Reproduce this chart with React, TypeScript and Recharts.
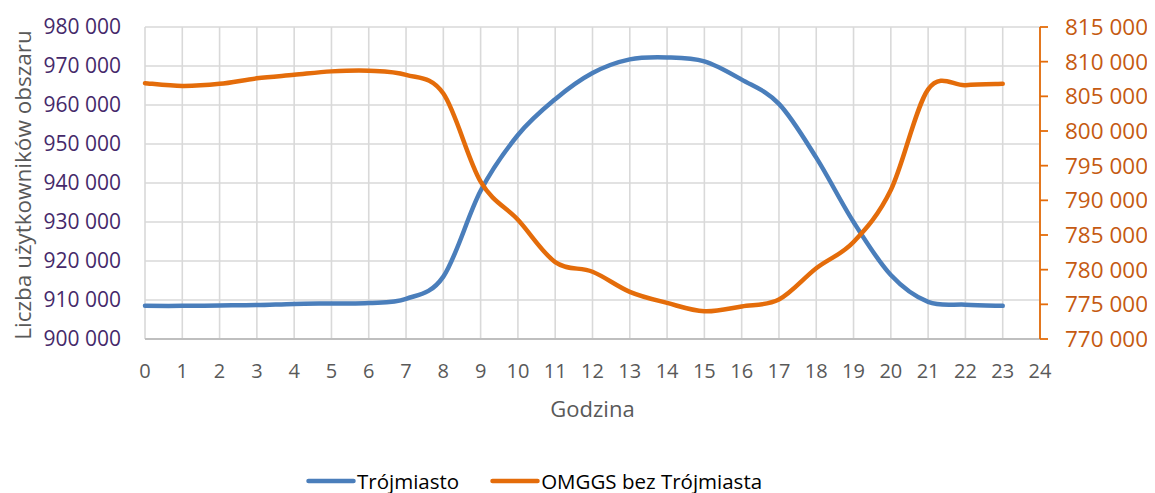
import React from 'react';
import { LineChart, Line, XAxis, YAxis, CartesianGrid, Legend, Label } from 'recharts';

const hours = [0, 1, 2, 3, 4, 5, 6, 7, 8, 9, 10, 11, 12, 13, 14, 15, 16, 17, 18, 19, 20, 21, 22, 23];
const trojmiasto = [
  908500, 908500, 908600, 908700, 909000, 909100, 909200, 910300, 916000, 938000, 952300, 961500,
  968200, 971700, 972200, 971200, 966500, 960300, 946500, 930000, 916400, 909500, 908800, 908500,
];
const omggs = [
  806900, 806500, 806800, 807600, 808100, 808600, 808700, 808100, 805400, 792700, 787200, 781100,
  779700, 776800, 775200, 774000, 774700, 775700, 780200, 784000, 791500, 806000, 806600, 806800,
];
const xTicks = [0, 1, 2, 3, 4, 5, 6, 7, 8, 9, 10, 11, 12, 13, 14, 15, 16, 17, 18, 19, 20, 21, 22, 23, 24];
const leftTicks = [900000, 910000, 920000, 930000, 940000, 950000, 960000, 970000, 980000];
const rightTicks = [770000, 775000, 780000, 785000, 790000, 795000, 800000, 805000, 810000, 815000];
const seriesNames = ['Trójmiasto', 'OMGGS bez Trójmiasta'];
const xTitle = 'Godzina';
const yTitle = 'Liczba użytkowników obszaru';

const data = hours.map((h, i) => ({ hour: h, a: trojmiasto[i], b: omggs[i] }));

const FONT = '"Open Sans", sans-serif';
const BLUE = '#4a7ebb';
const ORANGE = '#e46c0a';
const ORANGE_TXT = '#c55a11';
const PURPLE = '#45296a';
const GRAY = '#595959';

const fmt = (v: number) => String(v).replace(/\B(?=(\d{3})+(?!\d))/g, ' ');

// Excel-like smoothed line (Catmull-Rom through points)
const excelCurve = (context: any) => {
  let pts: number[][] = [];
  return {
    areaStart() {},
    areaEnd() {},
    lineStart() {
      pts = [];
    },
    point(x: number, y: number) {
      pts.push([+x, +y]);
    },
    lineEnd() {
      const n = pts.length;
      if (!n) return;
      context.moveTo(pts[0][0], pts[0][1]);
      for (let i = 0; i < n - 1; i++) {
        const p0 = pts[i - 1] || pts[i];
        const p1 = pts[i];
        const p2 = pts[i + 1];
        const p3 = pts[i + 2] || p2;
        context.bezierCurveTo(
          p1[0] + (p2[0] - p0[0]) / 6,
          p1[1] + (p2[1] - p0[1]) / 6,
          p2[0] - (p3[0] - p1[0]) / 6,
          p2[1] - (p3[1] - p1[1]) / 6,
          p2[0],
          p2[1]
        );
      }
    },
  };
};

const renderLegend = (props: any) => {
  const payload = [...(props.payload || [])].sort(
    (p: any, q: any) => seriesNames.indexOf(p.value) - seriesNames.indexOf(q.value)
  );
  return (
    <div
      style={{
        display: 'flex',
        alignItems: 'center',
        height: 20,
        fontFamily: FONT,
        fontSize: 20.5,
        lineHeight: '20px',
        color: '#000',
        whiteSpace: 'nowrap',
      }}
    >
      {payload.map((e: any, i: number) => (
        <div key={i} style={{ display: 'flex', alignItems: 'center', marginLeft: i ? 31 : 0 }}>
          <svg width={50} height={10} style={{ display: 'block' }}>
            <line x1={2.5} y1={5} x2={47.5} y2={5} stroke={e.color} strokeWidth={4.5} strokeLinecap="round" />
          </svg>
          <span style={{ marginLeft: 1, lineHeight: '20px' }}>{e.value}</span>
        </div>
      ))}
    </div>
  );
};

const renderYTitle = (props: any) => {
  const vb = props.viewBox || {};
  const cx = 14;
  const cy = (vb.y || 0) + (vb.height || 0) / 2 + 2;
  return (
    <text
      x={cx}
      y={cy}
      transform={`rotate(-90 ${cx} ${cy})`}
      textAnchor="middle"
      dominantBaseline="central"
      fill={GRAY}
      fontFamily={FONT}
      fontSize={22.5}
    >
      {yTitle}
    </text>
  );
};

export default function App() {
  return (
    <LineChart width={1147} height={485} data={data} margin={{ top: 19, right: 0, bottom: 0, left: 0 }}>
      <CartesianGrid yAxisId="left" stroke="#d9d9d9" strokeWidth={1.6} />
      <XAxis
        dataKey="hour"
        type="number"
        domain={[0, 24]}
        ticks={xTicks}
        interval={0}
        height={154}
        axisLine={{ stroke: '#bfbfbf', strokeWidth: 2 }}
        tickLine={false}
        tickSize={0}
        tickMargin={25}
        tick={{ fill: GRAY, fontSize: 20, fontFamily: FONT }}
      >
        <Label value={xTitle} position="insideTop" offset={62} fill={GRAY} fontSize={22} fontFamily={FONT} />
      </XAxis>
      <YAxis
        yAxisId="left"
        orientation="left"
        width={137}
        domain={[900000, 980000]}
        ticks={leftTicks}
        interval={0}
        tickFormatter={fmt}
        axisLine={false}
        tickLine={false}
        tickSize={0}
        tickMargin={24}
        tick={{ fill: PURPLE, fontSize: 21, fontFamily: FONT }}
      >
        <Label content={renderYTitle} />
      </YAxis>
      <YAxis
        yAxisId="right"
        orientation="right"
        width={115}
        domain={[770000, 815000]}
        ticks={rightTicks}
        interval={0}
        tickFormatter={fmt}
        axisLine={{ stroke: ORANGE, strokeWidth: 1.8 }}
        tickLine={{ stroke: ORANGE, strokeWidth: 1.8 }}
        tickSize={8}
        tickMargin={17}
        tick={{ fill: ORANGE_TXT, fontSize: 22.5, fontFamily: FONT }}
      />
      <Legend
        verticalAlign="middle"
        align="center"
        layout="horizontal"
        content={renderLegend}
        wrapperStyle={{ top: 463, left: 298, width: 700, height: 20 }}
      />
      <Line
        yAxisId="left"
        dataKey="a"
        name={seriesNames[0]}
        type={excelCurve as any}
        stroke={BLUE}
        strokeWidth={4.5}
        strokeLinecap="round"
        dot={false}
        activeDot={false}
        isAnimationActive={false}
      />
      <Line
        yAxisId="right"
        dataKey="b"
        name={seriesNames[1]}
        type={excelCurve as any}
        stroke={ORANGE}
        strokeWidth={4.5}
        strokeLinecap="round"
        dot={false}
        activeDot={false}
        isAnimationActive={false}
      />
    </LineChart>
  );
}
